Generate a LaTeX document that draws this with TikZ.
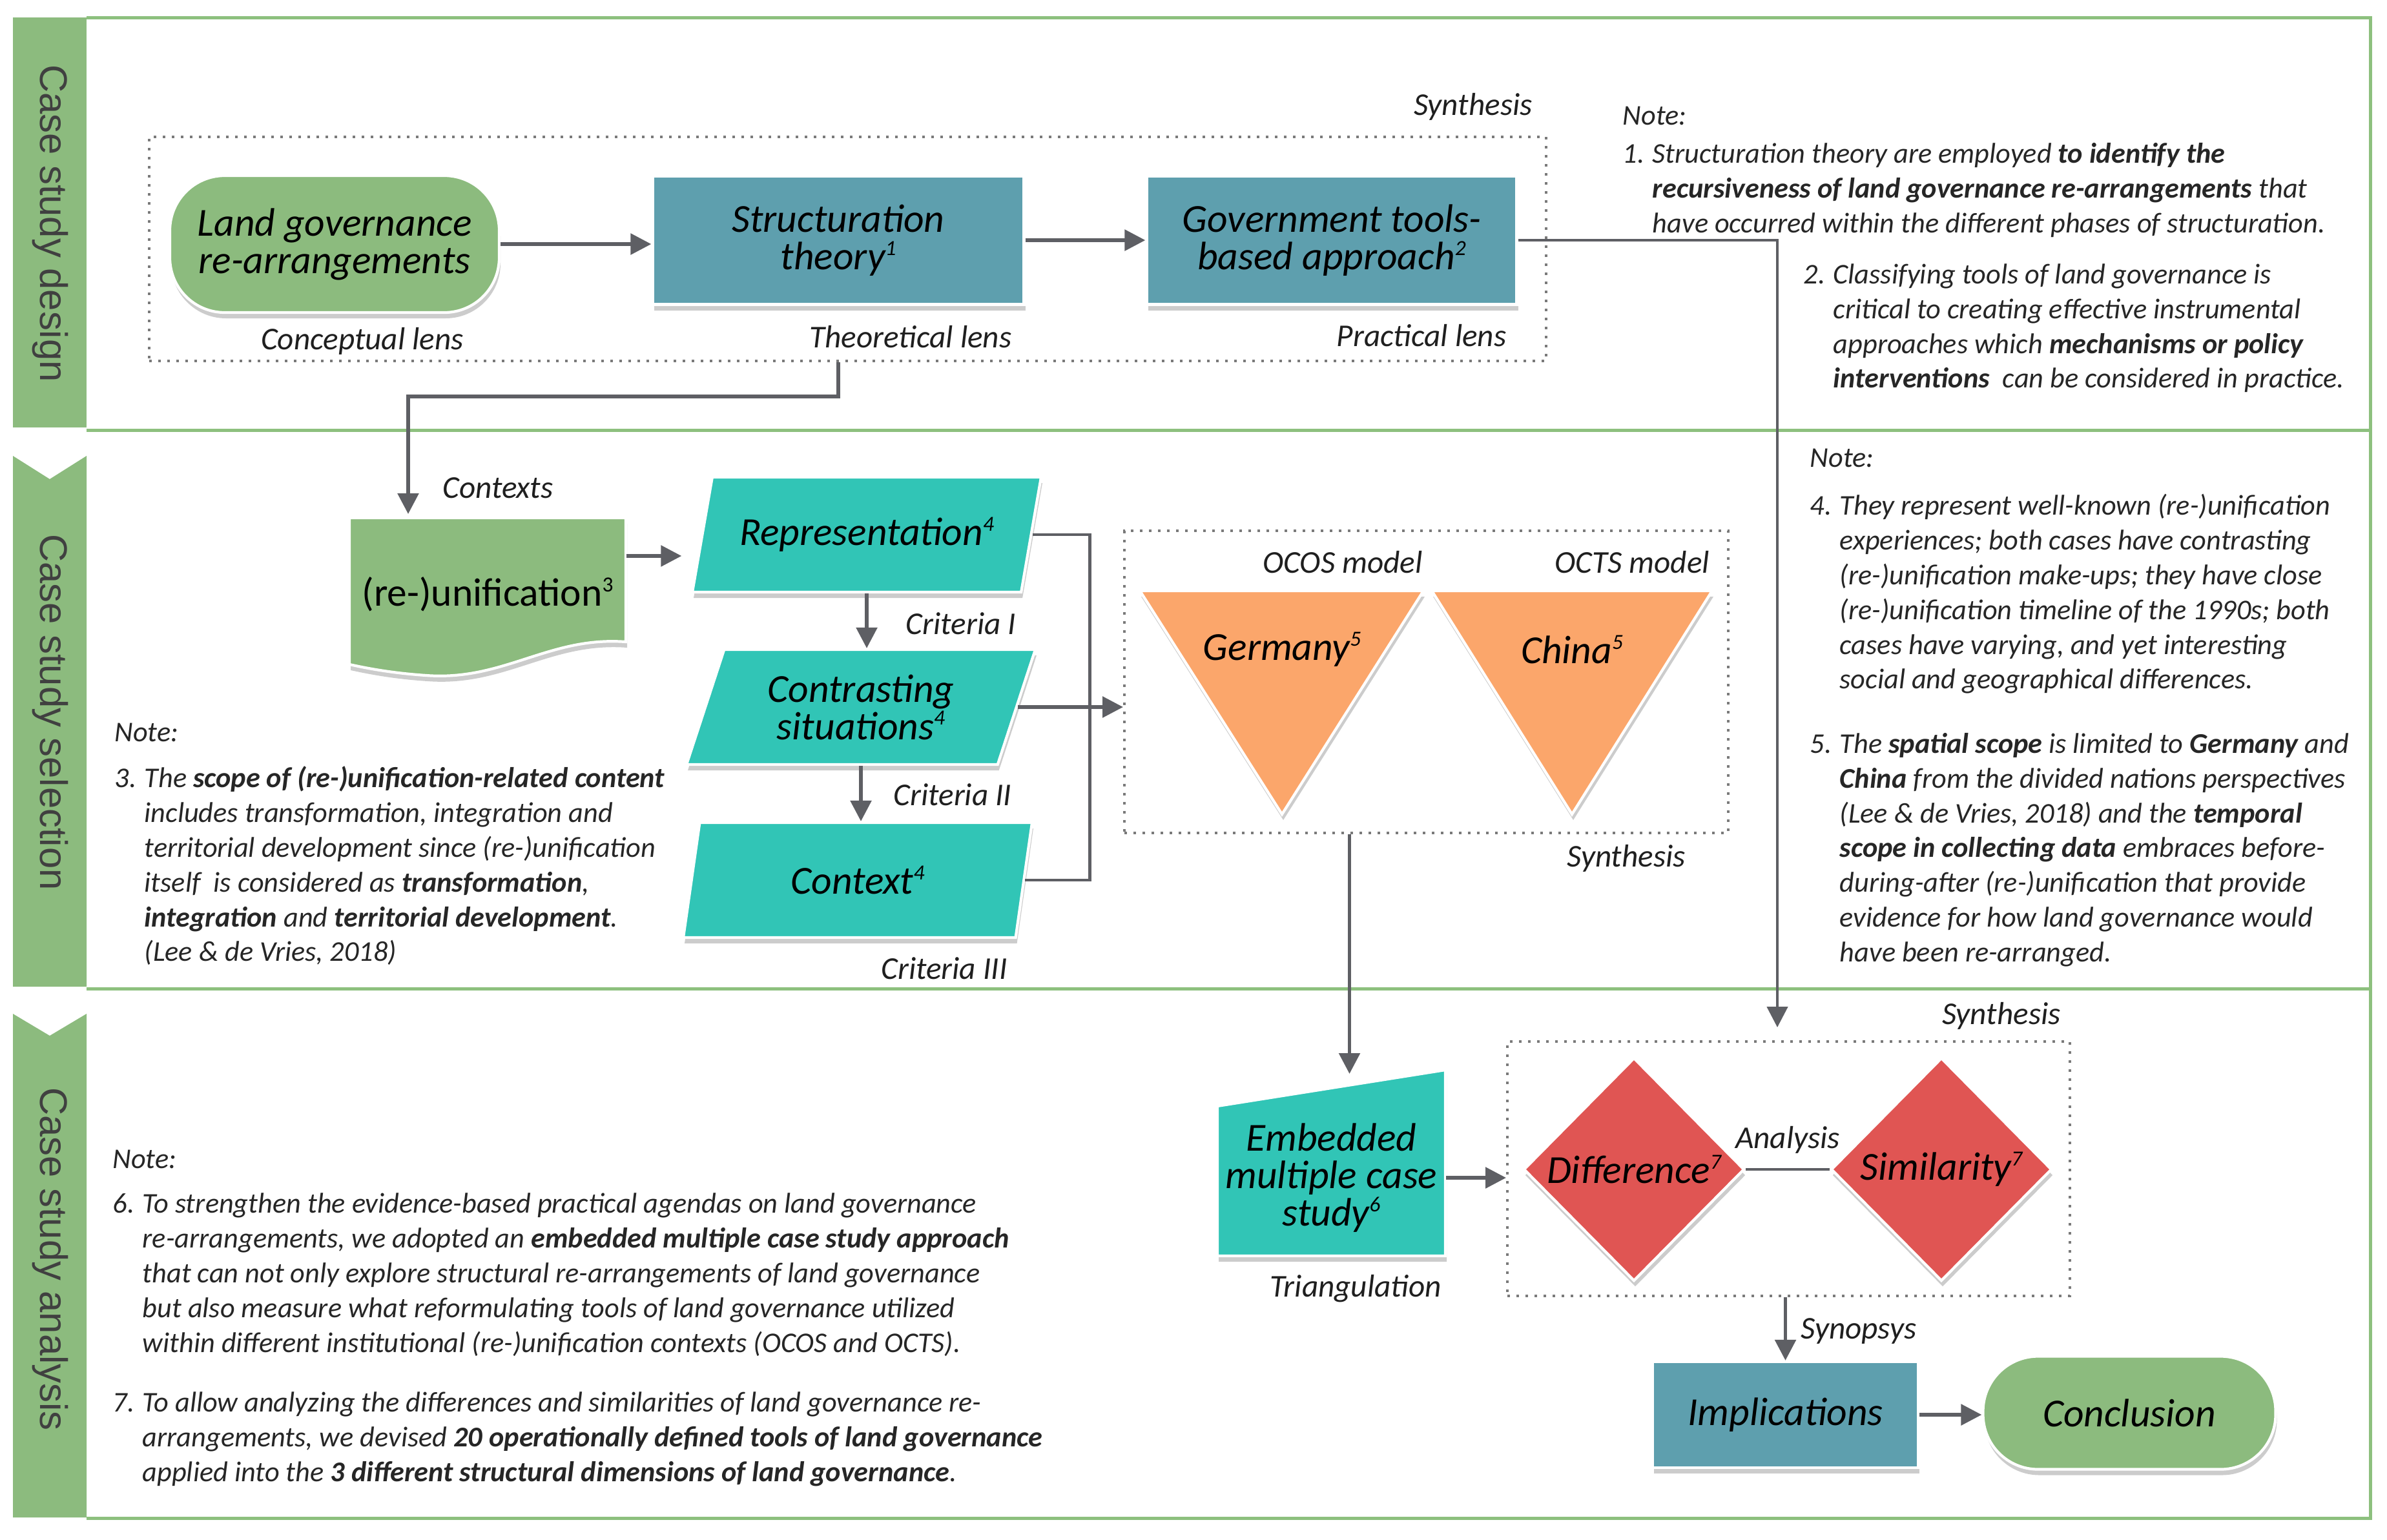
\documentclass[tikz,border=0pt]{standalone}
\usepackage{fontspec}
\setmainfont{Carlito}
\newfontfamily\bandfont{Liberation Sans}
\usepackage{xcolor}
\usetikzlibrary{shapes.geometric,arrows.meta,shadows,positioning}

\definecolor{bandgreen}{HTML}{8CBB7E}
\definecolor{framegreen}{HTML}{8DC07E}
\definecolor{govteal}{HTML}{5E9FAE}
\definecolor{turq}{HTML}{31C5B6}
\definecolor{orangetri}{HTML}{FBA66B}
\definecolor{reddia}{HTML}{E05553}
\definecolor{arrowgray}{HTML}{5E5F64}
\definecolor{dotgray}{HTML}{7A7A7A}
\definecolor{notetext}{HTML}{262626}

\newcommand{\boxfont}{\fontsize{17.5}{16.5}\selectfont\itshape}
\newcommand{\lensfont}{\fontsize{14}{16}\selectfont\itshape}
\newcommand{\notefont}{\fontsize{12.6}{15.3}\selectfont\itshape}
\newcommand{\itm}[1]{\makebox[0.46cm][l]{#1}}
\newcommand{\ind}{\hspace*{0.46cm}}
\newcommand{\sups}[1]{\raisebox{0.75ex}{\fontsize{9.5}{9.5}\selectfont #1}}

\begin{document}
\begin{tikzpicture}[
    boxshadow/.style={drop shadow={shadow xshift=0.02cm, shadow yshift=-0.09cm, fill=black, opacity=0.2}},
    pill/.style={boxshadow, fill=bandgreen, draw=white, line width=1.2pt, rounded corners=0.85cm, font=\boxfont, align=center, inner sep=0pt},
    sqbox/.style={boxshadow, fill=govteal, draw=white, line width=1.2pt, font=\boxfont, align=center, inner sep=0pt},
    slantbox/.style={boxshadow, trapezium, trapezium left angle=60, trapezium right angle=120, trapezium stretches body, minimum width=5.4cm, minimum height=1.78cm, fill=turq, draw=white, line width=1.2pt, font=\boxfont, align=center, inner sep=0pt},
    diabox/.style={boxshadow, diamond, aspect=1, minimum width=3.42cm, minimum height=3.46cm, fill=reddia, draw=white, line width=1.2pt, font=\boxfont, inner sep=0pt},
    dotbox/.style={draw=dotgray, line width=0.04cm, dash pattern=on 0.04cm off 0.1cm},
    lens/.style={font=\lensfont, text=black!88},
    note/.style={font=\notefont, text=notetext, align=left, anchor=north west, inner sep=0pt},
    bandlabel/.style={font=\bandfont\fontsize{17}{17}\selectfont, rotate=-90, text=black!75},
    bandline/.style={draw=framegreen, line width=0.05cm},
    flowarrow/.style={draw=arrowgray, line width=1.6pt, -{Triangle[length=0.32cm,width=0.32cm]}},
    plainline/.style={draw=arrowgray, line width=1.3pt}
]
    % Canvas
    \fill[white] (0,0) rectangle (36.96,-23.84);
    \useasboundingbox (0,0) rectangle (36.96,-23.84);

    % Draw the green bars on the left
    \fill[bandgreen] (0.20,-0.27) rectangle (1.34,-6.62);
    \fill[bandgreen] (0.20,-7.06) -- (0.77,-7.42) -- (1.34,-7.06) -- (1.34,-15.28) -- (0.20,-15.28) -- cycle;
    \fill[bandgreen] (0.20,-15.70) -- (0.77,-16.04) -- (1.34,-15.70) -- (1.34,-23.50) -- (0.20,-23.50) -- cycle;
    \node[bandlabel] (design) at (0.78,-3.46) {Case study design};
    \node[bandlabel] (selection) at (0.78,-11.03) {Case study selection};
    \node[bandlabel] (analysis) at (0.78,-19.50) {Case study analysis};

    % Draw the frame lines
    \draw[bandline] (1.34,-0.27) -- (36.70,-0.27) -- (36.70,-23.51) -- (1.34,-23.51);
    \draw[bandline] (1.34,-6.66) -- (36.70,-6.66);
    \draw[bandline] (1.34,-15.31) -- (36.70,-15.31);

    % Case study design
    \node[dotbox, minimum width=21.63cm, minimum height=3.47cm] (lensbox) at (13.125,-3.855) {};
    \node[pill, minimum width=5.10cm, minimum height=2.12cm] (land) at (5.18,-3.78) {Land governance\\re-arrangements};
    \node[sqbox, minimum width=5.75cm, minimum height=1.99cm] (struct) at (12.98,-3.72) {Structuration\\theory\sups{1}};
    \node[sqbox, minimum width=5.73cm, minimum height=1.99cm] (gov) at (20.62,-3.72) {Government tools-\\based approach\sups{2}};
    \node[lens] (concept) at (5.61,-5.28) {Conceptual lens};
    \node[lens] (theor) at (14.10,-5.22) {Theoretical lens};
    \node[lens] (pract) at (22.01,-5.20) {Practical lens};
    \node[lens, anchor=east] (synth1) at (23.85,-1.65) {Synthesis};
    \draw[flowarrow] (land.east) -- (land.east -| struct.west);
    \draw[flowarrow] (struct.east) -- (gov.west);

    % Notes 1 and 2
    \node[note] (note1) at (25.12,-1.64) {Note:\\[0.06cm]
        \itm{1.}Structuration theory are employed \textbf{to identify the}\\
        \ind\textbf{recursiveness of land governance re-arrangements} that\\
        \ind have occurred within the different phases of structuration.};
    \node[note] (note2) at (27.92,-4.08) {\itm{2.}Classifying tools of land governance is\\
        \ind critical to creating effective instrumental\\
        \ind approaches which \textbf{mechanisms or policy}\\
        \ind\textbf{interventions}\ \ can be considered in practice.};

    % Case study selection
    \fill[bandgreen, draw=white, line width=1.2pt, boxshadow] (5.41,-8.02) -- (9.69,-8.02) -- (9.69,-9.94)
        .. controls (8.5,-9.85) and (7.8,-10.55) .. (6.6,-10.46)
        .. controls (6.0,-10.42) and (5.6,-10.33) .. (5.41,-10.29) -- cycle;
    \node[font=\fontsize{17.5}{18}\selectfont, inner sep=0pt, minimum width=4.28cm, minimum height=2.36cm] (reunif) at (7.55,-9.20) {(re-)unification\sups{3}};
    \node[lens] (ctxlabel) at (7.71,-7.56) {Contexts};
    \coordinate (ctxin) at (6.32,-7.96);
    \draw[flowarrow] (lensbox.south -| struct.south) -- ++(0,-0.53) -| (ctxin);

    \node[slantbox] (repr) at (13.42,-8.28) {Representation\sups{4}};
    \node[slantbox] (contr) at (13.33,-10.95) {Contrasting\\situations\sups{4}};
    \node[slantbox] (ctx) at (13.28,-13.63) {Context\sups{4}};
    \coordinate (reprin) at ([xshift=-3mm,yshift=-3.3mm]repr.west);
    \draw[flowarrow] (reunif.east |- reprin) -- (reprin);
    \draw[flowarrow] (repr.south) -- (repr.south |- contr.north);
    \draw[flowarrow] (contr.south) -- (contr.south |- ctx.north);
    \node[lens] (crit1) at (14.88,-9.66) {Criteria I};
    \node[lens] (crit2) at (14.75,-12.31) {Criteria II};
    \node[lens] (crit3) at (14.62,-15.00) {Criteria III};

    \node[dotbox, minimum width=9.35cm, minimum height=4.68cm] (gerbox) at (22.085,-10.56) {};
    \draw[plainline] (repr.east) -- ++(0.89,0) |- (ctx.east);
    \draw[flowarrow] (contr.east) -- (contr.east -| gerbox.west);
    \fill[orangetri, draw=white, line width=1.2pt, boxshadow] (17.65,-9.15) -- (22.04,-9.15) -- (19.85,-12.61) -- cycle;
    \fill[orangetri, draw=white, line width=1.2pt, boxshadow] (22.17,-9.15) -- (26.51,-9.15) -- (24.34,-12.61) -- cycle;
    \node[font=\boxfont] (germany) at (19.85,-10.06) {Germany\sups{5}};
    \node[font=\boxfont] (china) at (24.34,-10.06) {China\sups{5}};
    \node[lens] (ocos) at (20.79,-8.71) {OCOS model};
    \node[lens] (octs) at (25.27,-8.71) {OCTS model};
    \node[lens] (synth2) at (25.18,-13.29) {Synthesis};

    % Note 3
    \node[note] (note3) at (1.77,-11.19) {Note:\\[0.18cm]
        \itm{3.}The \textbf{scope of (re-)unification-related content}\\
        \ind includes transformation, integration and\\
        \ind territorial development since (re-)unification\\
        \ind itself\ \ is considered as \textbf{transformation},\\
        \ind\textbf{integration} and \textbf{territorial development}.\\
        \ind (Lee \& de Vries, 2018)};

    % Notes 4 and 5
    \node[note] (note45) at (28.02,-6.94) {Note:\\[0.21cm]
        \itm{4.}They represent well-known (re-)unification\\
        \ind experiences; both cases have contrasting\\
        \ind (re-)unification make-ups; they have close\\
        \ind (re-)unification timeline of the 1990s; both\\
        \ind cases have varying, and yet interesting\\
        \ind social and geographical differences.\\[0.46cm]
        \itm{5.}The \textbf{spatial scope} is limited to \textbf{Germany} and\\
        \ind\textbf{China} from the divided nations perspectives\\
        \ind (Lee \& de Vries, 2018) and the \textbf{temporal}\\
        \ind\textbf{scope in collecting data} embraces before-\\
        \ind during-after (re-)unification that provide\\
        \ind evidence for how land governance would\\
        \ind have been re-arranged.};

    % Case study analysis
    \fill[turq, draw=white, line width=1.2pt, boxshadow] (18.85,-17.13) -- (22.38,-16.57) -- (22.38,-19.45) -- (18.85,-19.45) -- cycle;
    \node[font=\boxfont, align=center, minimum width=3.53cm, inner sep=0pt] (embed) at (20.615,-18.24) {Embedded\\multiple case\\study\sups{6}};
    \node[lens] (triang) at (20.99,-19.96) {Triangulation};
    \coordinate (gerout) at ([xshift=-1.19cm]gerbox.south);
    \coordinate (embtop) at (gerout |- 0,-16.63);
    \draw[flowarrow] (gerout) -- (embtop);

    \node[dotbox, minimum width=8.71cm, minimum height=3.94cm] (anbox) at (27.695,-18.10) {};
    \node[diabox] (diff) at (25.30,-18.11) {Difference\sups{7}};
    \node[diabox] (sim) at (30.06,-18.11) {Similarity\sups{7}};
    \draw[plainline] (diff.east) -- (sim.west);
    \node[lens] (anal) at (27.68,-17.65) {Analysis};
    \node[lens, anchor=east] (synth3) at (32.03,-15.73) {Synthesis};
    \draw[flowarrow] (embed.east) -- (embed.east -| anbox.west);

    \coordinate (turn) at (27.52,-3.72);
    \draw[flowarrow, line width=1.3pt, shorten >=2mm] (gov.east) -| (anbox.north -| turn);

    \node[sqbox, minimum width=4.11cm, minimum height=1.64cm] (impl) at (27.645,-21.91) {Implications};
    \node[pill, minimum width=4.53cm, minimum height=1.75cm] (concl) at (32.97,-21.88) {Conclusion};
    \draw[flowarrow] (anbox.south -| impl.north) -- (impl.north);
    \node[lens] (synop) at (28.78,-20.61) {Synopsys};
    \draw[flowarrow] (impl.east) -- (impl.east -| concl.west);

    % Notes 6 and 7
    \node[note] (note67) at (1.74,-17.80) {Note:\\[0.16cm]
        \itm{6.}To strengthen the evidence-based practical agendas on land governance\\
        \ind re-arrangements, we adopted an \textbf{embedded multiple case study approach}\\
        \ind that can not only explore structural re-arrangements of land governance\\
        \ind but also measure what reformulating tools of land governance utilized\\
        \ind within different institutional (re-)unification contexts (OCOS and OCTS).\\[0.39cm]
        \itm{7.}To allow analyzing the differences and similarities of land governance re-\\
        \ind arrangements, we devised \textbf{20 operationally defined tools of land governance}\\
        \ind applied into the \textbf{3 different structural dimensions of land governance}.};
\end{tikzpicture}
\end{document}
